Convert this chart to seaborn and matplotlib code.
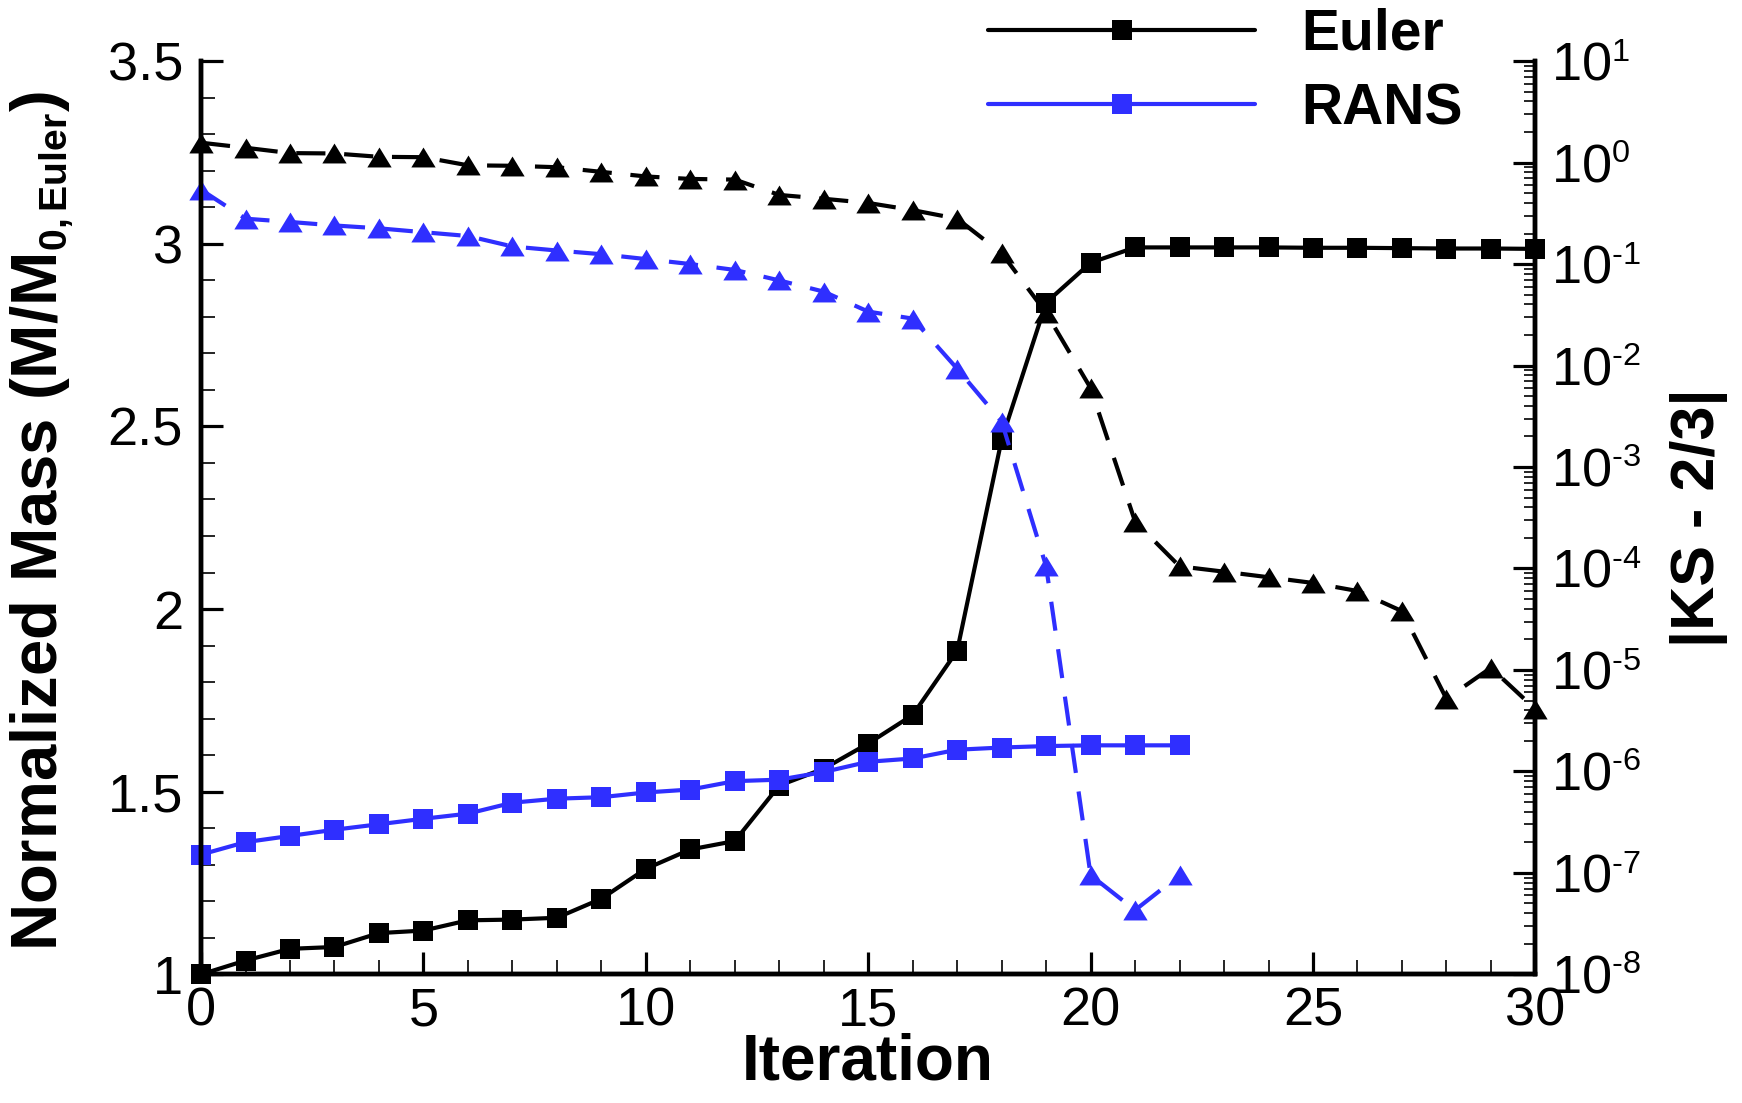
import matplotlib
matplotlib.use("Agg")
import matplotlib.pyplot as plt
import matplotlib._mathtext as _mt
import numpy as np
import pandas as pd
import seaborn as sns
from matplotlib.ticker import (MultipleLocator, LogLocator, NullFormatter,
                               FuncFormatter)

# ---------------------------------------------------------------- data
iter_euler = list(range(31))
iter_rans = list(range(23))

# normalized mass M / M0,Euler
mass_euler = [1.000, 1.038, 1.070, 1.075, 1.113, 1.120, 1.148, 1.150, 1.155, 1.207,
              1.289, 1.342, 1.365, 1.517, 1.563, 1.632, 1.710, 1.886, 2.464, 2.839,
              2.948, 2.990, 2.990, 2.990, 2.990, 2.989, 2.989, 2.988, 2.987, 2.987,
              2.986]
mass_rans = [1.328, 1.362, 1.379, 1.396, 1.411, 1.426, 1.440, 1.470, 1.481, 1.485,
             1.498, 1.506, 1.529, 1.533, 1.554, 1.582, 1.591, 1.615, 1.621, 1.625,
             1.627, 1.627, 1.627]

# constraint violation |KS - 2/3|
ks_euler = [1.57, 1.40, 1.24, 1.23, 1.14, 1.13, 0.94, 0.93, 0.90, 0.81,
            0.73, 0.69, 0.68, 0.48, 0.44, 0.40, 0.34, 0.28, 0.128, 0.033,
            6.0e-3, 2.9e-4, 1.05e-4, 9.3e-5, 8.2e-5, 7.2e-5, 6.0e-5, 3.8e-5,
            5.2e-6, 1.05e-5, 4.1e-6]
ks_rans = [0.54, 0.28, 0.26, 0.24, 0.225, 0.206, 0.189, 0.149, 0.136, 0.125,
           0.112, 0.100, 0.0875, 0.069, 0.0535, 0.034, 0.029, 9.3e-3, 2.8e-3,
           1.05e-4, 9.5e-8, 4.3e-8, 9.5e-8]

labels = ["Euler", "RANS"]

# ---------------------------------------------------------------- style
sns.set_theme(style="white")
plt.rcParams.update({
    "font.family": ["Liberation Sans", "DejaVu Sans"],
    "mathtext.fontset": "custom",
    "mathtext.rm": "Liberation Sans",
    "mathtext.it": "Liberation Sans:italic",
    "mathtext.bf": "Liberation Sans:bold",
    "axes.edgecolor": "black",
    "axes.linewidth": 3.2,
    "axes.labelcolor": "black",
    "text.color": "black",
    "xtick.color": "black",
    "ytick.color": "black",
})
_mt.SHRINK_FACTOR = 0.6  # smaller super/subscripts

BLACK = "#000000"
BLUE = "#2F2FFF"
TRI = np.array([(-1.0, -0.82), (1.0, -0.82), (0.0, 0.82), (-1.0, -0.82)])
DASH = (0, (7, 4.5))

fig = plt.figure(figsize=(17.42, 11.03), dpi=100)
ax = fig.add_axes([0.1154, 0.1166, 0.7660, 0.8280])
ax2 = ax.twinx()

mass_df_e = pd.DataFrame({"iteration": iter_euler, "value": mass_euler})
mass_df_r = pd.DataFrame({"iteration": iter_rans, "value": mass_rans})
ks_df_e = pd.DataFrame({"iteration": iter_euler, "value": ks_euler})
ks_df_r = pd.DataFrame({"iteration": iter_rans, "value": ks_rans})

line_kw = dict(linewidth=3.0, clip_on=False)

# mass histories (left axis)
sns.lineplot(data=mass_df_e, x="iteration", y="value", ax=ax, color=BLACK,
             marker="s", markersize=14, markeredgecolor=BLACK,
             markeredgewidth=0, label=labels[0], **line_kw)
sns.lineplot(data=mass_df_r, x="iteration", y="value", ax=ax, color=BLUE,
             marker="s", markersize=14, markeredgecolor=BLUE,
             markeredgewidth=0, label=labels[1], **line_kw)

# constraint histories (right axis, log)
sns.lineplot(data=ks_df_e, x="iteration", y="value", ax=ax2, color=BLACK,
             marker=TRI, markersize=17.5, markeredgecolor=BLACK,
             markeredgewidth=0, linestyle=DASH, **line_kw)
sns.lineplot(data=ks_df_r, x="iteration", y="value", ax=ax2, color=BLUE,
             marker=TRI, markersize=17.5, markeredgecolor=BLUE,
             markeredgewidth=0, linestyle=DASH, **line_kw)

if ax.get_legend() is not None:
    ax.get_legend().remove()

# ---------------------------------------------------------------- axes
ax.set_xlim(0, 30)
ax.set_ylim(1, 3.5)
ax2.set_yscale("log")
ax2.set_ylim(1e-8, 1e1)

ax.xaxis.set_major_locator(MultipleLocator(5))
ax.xaxis.set_minor_locator(MultipleLocator(1))
ax.yaxis.set_major_locator(MultipleLocator(0.5))
ax.yaxis.set_minor_locator(MultipleLocator(0.1))
ax.yaxis.set_major_formatter(FuncFormatter(lambda v, _: f"{v:g}"))
ax.xaxis.set_major_formatter(FuncFormatter(lambda v, _: f"{v:g}"))


def pow10_label(v, _):
    e = int(round(np.log10(v)))
    if e < 0:
        return r"$\mathdefault{10^{\text{-}%d}}$" % (-e)
    return r"$\mathdefault{10^{%d}}$" % e


ax2.yaxis.set_major_locator(LogLocator(base=10, numticks=20))
ax2.yaxis.set_major_formatter(FuncFormatter(pow10_label))
ax2.yaxis.set_minor_locator(LogLocator(base=10, subs=np.arange(2, 10), numticks=200))
ax2.yaxis.set_minor_formatter(NullFormatter())

ax.tick_params(which="both", direction="in", top=False, right=False,
               left=True, bottom=True)
ax.tick_params(which="major", length=16, width=2.3, labelsize=39)
ax.tick_params(which="minor", length=10, width=1.2)
ax.tick_params(axis="x", which="major", pad=9)
ax.tick_params(axis="y", which="major", pad=13)

ax2.tick_params(axis="y", which="both", direction="in", right=True, left=False)
ax2.tick_params(axis="y", which="major", length=16, width=2.3, labelsize=39, pad=11)
ax2.tick_params(axis="y", which="minor", length=8, width=1.2)

for a in (ax, ax2):
    a.spines["top"].set_visible(False)
    for s in ("left", "right", "bottom"):
        a.spines[s].set_linewidth(3.2)
        a.spines[s].set_color("black")
    a.grid(False)

ax.set_xlabel("Iteration", fontsize=46, fontweight="bold")
ax.xaxis.set_label_coords(0.5, -0.064)
ax.set_ylabel(r"Normalized Mass (M/$\mathbf{M_{0,Euler}}$)", fontsize=47,
              fontweight="bold")
ax.yaxis.set_label_coords(-0.094, 0.496)
ax2.set_ylabel("|KS - 2/3|", fontsize=44, fontweight="bold", rotation=90)
ax2.yaxis.set_label_coords(1.101, 0.5)

# legend for the mass curves, above the top right of the plot
handles = ax.get_lines()[:2]
fig.legend(handles, labels, loc="upper left", bbox_to_anchor=(0.567, 0.993),
           frameon=False, prop=dict(weight="bold", size=41), handlelength=4.7,
           handletextpad=0.8, labelspacing=0.36, borderpad=0, borderaxespad=0,
           numpoints=1)

fig.savefig("out.png", dpi=100)
